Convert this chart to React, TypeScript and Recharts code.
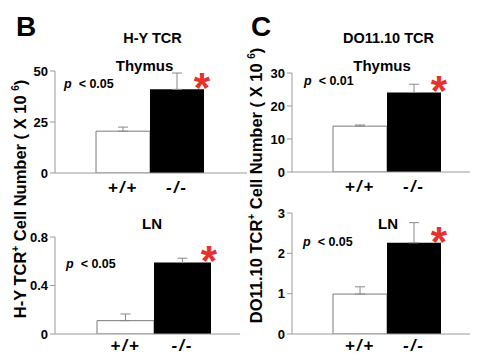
import React from 'react';
import { BarChart, Bar, XAxis, YAxis, ErrorBar, Cell, LabelList } from 'recharts';

const categories = ['+/+', '-/-'];
const significance = ['', '*'];

const hyThymusValues = [20.5, 41];
const hyThymusErrors = [2, 8];
const hyThymusTicks = [0, 25, 50];

const hyLnValues = [0.11, 0.59];
const hyLnErrors = [0.055, 0.035];
const hyLnTicks = [0, 0.4, 0.8];

const doThymusValues = [13.9, 24.1];
const doThymusErrors = [0.35, 2.5];
const doThymusTicks = [0, 10, 20, 30];

const doLnValues = [0.99, 2.26];
const doLnErrors = [0.18, 0.5];
const doLnTicks = [0, 1, 2, 3];

const barFills = ['#ffffff', '#000000'];
const barStrokes = ['#7a7a7a', 'none'];

const FONT = '"Liberation Sans", Arial, Helvetica, sans-serif';
const AXIS_GREY = '#9a9a9a';

function buildData(values: number[], errors: number[]) {
  return categories.map((c, i) => ({
    cat: c,
    value: values[i],
    err: [0, errors[i]],
    sig: significance[i],
  }));
}

const StarLabel = (props: any) => {
  const vb = props.viewBox || props;
  const x = vb.x ?? props.x;
  const y = vb.y ?? props.y;
  const width = vb.width ?? props.width;
  if (!props.value) return null;
  return (
    <text
      x={x + width - 2}
      y={y + 13}
      textAnchor="middle"
      fill="#e5322d"
      fontSize={42}
      fontWeight="bold"
      fontFamily={FONT}
    >
      *
    </text>
  );
};

const XTick = (props: any) => {
  const { x, y, payload } = props;
  return (
    <text
      x={x}
      y={y}
      dy="0.71em"
      textAnchor="middle"
      fontSize={17}
      fontWeight="bold"
      fontStyle="italic"
      letterSpacing={2}
      fill="#000"
      fontFamily={FONT}
      style={{ fontStyle: 'italic' }}
    >
      {payload.value}
    </text>
  );
};

type PanelProps = {
  cx: number; cy: number; w: number; h: number;
  plotLeft: number; plotTop: number; plotBottom: number; plotRight: number;
  padLeft: number; padRight: number;
  values: number[]; errors: number[]; ticks: number[];
  xTickMargin: number;
};

function Panel(p: PanelProps) {
  const data = buildData(p.values, p.errors);
  const domainMax = p.ticks[p.ticks.length - 1];
  return (
    <div style={{ position: 'absolute', left: p.cx, top: p.cy }}>
      <BarChart
        width={p.w}
        height={p.h}
        data={data}
        margin={{ top: p.plotTop - p.cy, left: 0, right: p.cx + p.w - p.plotRight, bottom: 0 }}
        barCategoryGap={0}
      >
        <XAxis
          dataKey="cat"
          height={p.cy + p.h - p.plotBottom}
          padding={{ left: p.padLeft, right: p.padRight }}
          stroke={AXIS_GREY}
          tickLine={false}
          tickSize={0}
          tickMargin={p.xTickMargin}
          tick={<XTick />}
          interval={0}
        />
        <YAxis
          width={p.plotLeft - p.cx}
          domain={[0, domainMax]}
          ticks={p.ticks}
          stroke={AXIS_GREY}
          tickSize={5}
          tickMargin={2}
          tick={{ fontSize: 13, fontWeight: 'bold', fill: '#000', fontFamily: FONT }}
          allowDataOverflow
        />
        <Bar dataKey="value" isAnimationActive={false}>
          {data.map((d, i) => (
            <Cell key={d.cat} fill={barFills[i]} stroke={barStrokes[i]} strokeWidth={1} />
          ))}
          <ErrorBar dataKey="err" direction="y" width={5} stroke="#8a8a8a" strokeWidth={1} />
          <LabelList dataKey="sig" content={StarLabel} />
        </Bar>
      </BarChart>
    </div>
  );
}

const PValue = ({ x, y, text }: { x: number; y: number; text: string }) => (
  <text x={x} y={y} fontSize={12.5} fontWeight="bold" fill="#000">
    <tspan fontStyle="italic">p</tspan>
    <tspan dx={7}>{text}</tspan>
  </text>
);

const YLabel = ({ x, y, prefix }: { x: number; y: number; prefix: string }) => (
  <text
    transform={`translate(${x},${y}) rotate(-90)`}
    textAnchor="middle"
    fontSize={16.5}
    fontWeight="bold"
    fill="#000"
  >
    {prefix}
    <tspan fontSize={10} dy={-7}>+</tspan>
    <tspan dy={7}> Cell Number ( X 10 </tspan>
    <tspan fontSize={10} dy={-7}>6</tspan>
    <tspan dy={7}>)</tspan>
  </text>
);

export default function App() {
  return (
    <div
      style={{
        position: 'absolute',
        left: 0,
        top: 0,
        width: 477,
        height: 364,
        background: '#fff',
        fontFamily: FONT,
        overflow: 'hidden',
      }}
    >
      <Panel cx={0} cy={50} w={250} h={150} plotLeft={55} plotTop={71} plotBottom={173} plotRight={247}
        padLeft={41} padRight={43} values={hyThymusValues} errors={hyThymusErrors} ticks={hyThymusTicks} xTickMargin={8} />
      <Panel cx={0} cy={215} w={245} h={149} plotLeft={55} plotTop={237} plotBottom={334} plotRight={240}
        padLeft={42} padRight={29} values={hyLnValues} errors={hyLnErrors} ticks={hyLnTicks} xTickMargin={5} />
      <Panel cx={245} cy={50} w={232} h={150} plotLeft={292} plotTop={73} plotBottom={172} plotRight={470}
        padLeft={41} padRight={29} values={doThymusValues} errors={doThymusErrors} ticks={doThymusTicks} xTickMargin={8} />
      <Panel cx={245} cy={205} w={232} h={159} plotLeft={292} plotTop={213} plotBottom={334} plotRight={470}
        padLeft={41} padRight={29} values={doLnValues} errors={doLnErrors} ticks={doLnTicks} xTickMargin={5} />

      <svg
        width={477}
        height={364}
        style={{ position: 'absolute', left: 0, top: 0, pointerEvents: 'none', fontFamily: FONT }}
      >
        <text x={16} y={36} fontSize={28} fontWeight="bold" fill="#000">B</text>
        <text x={251} y={36} fontSize={28} fontWeight="bold" fill="#000">C</text>

        <text x={152.5} y={43} textAnchor="middle" fontSize={14.5} fontWeight="bold" fill="#000">H-Y TCR</text>
        <text x={388.5} y={43} textAnchor="middle" fontSize={14.5} fontWeight="bold" fill="#000">DO11.10 TCR</text>

        <text x={144.5} y={71} textAnchor="middle" fontSize={15} fontWeight="bold" fill="#000">Thymus</text>
        <text x={382} y={71} textAnchor="middle" fontSize={15} fontWeight="bold" fill="#000">Thymus</text>
        <text x={152} y={229} textAnchor="middle" fontSize={15} fontWeight="bold" fill="#000">LN</text>
        <text x={388} y={229} textAnchor="middle" fontSize={15} fontWeight="bold" fill="#000">LN</text>

        <PValue x={64} y={88} text="< 0.05" />
        <PValue x={304} y={85} text="< 0.01" />
        <PValue x={66} y={268} text="< 0.05" />
        <PValue x={303} y={246} text="< 0.05" />

        <YLabel x={26} y={199} prefix="H-Y TCR" />
        <YLabel x={262} y={185.5} prefix="DO11.10 TCR" />
      </svg>
    </div>
  );
}
